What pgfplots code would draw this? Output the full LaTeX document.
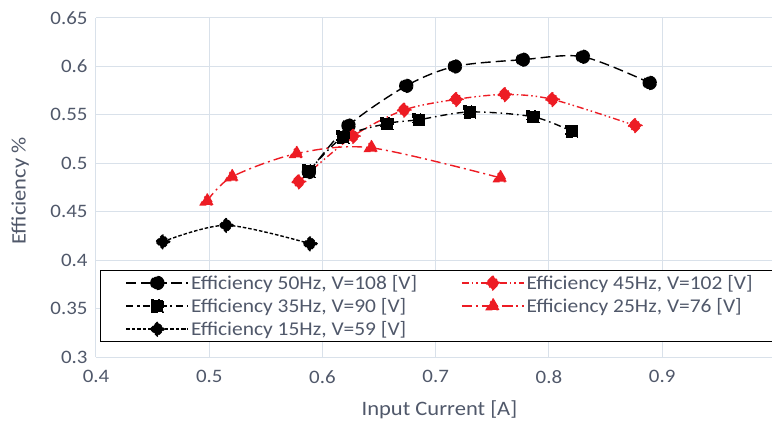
\documentclass[border=0pt]{standalone}
\usepackage{fontspec}
\setmainfont{Carlito}[FakeStretch=1.1]
\usepackage{pgfplots}
\pgfplotsset{compat=1.18}
\definecolor{txt}{RGB}{80,88,106}
\definecolor{gridc}{RGB}{217,225,234}
\definecolor{myred}{RGB}{237,28,36}
\begin{document}
\begin{tikzpicture}
\begin{axis}[name=ax, scale only axis, width=676bp, height=339bp,
  xmin=0.4, xmax=0.997, ymin=0.3, ymax=0.65,
  xtick={0.4,0.5,0.6,0.7,0.8,0.9}, ytick={0.3,0.35,0.4,0.45,0.5,0.55,0.6,0.65},
  xticklabels={0.4,0.5,0.6,0.7,0.8,0.9},
  yticklabels={0.3,0.35,0.4,0.45,0.5,0.55,0.6,0.65},
  grid=major, major grid style={draw=gridc, line width=1bp},
  axis x line=bottom, axis y line=left,
  axis line style={draw=gridc, line width=1bp, -},
  major tick length=0pt,
  ticklabel style={font=\fontsize{19bp}{22bp}\selectfont, text=txt},
  yticklabel style={xshift=-5bp},
  xticklabel style={yshift=-10bp},
  xlabel={Input Current [A]}, ylabel={Efficiency \%},
  label style={font=\fontsize{20.5bp}{23bp}\selectfont, text=txt},
  x label style={at={(axis description cs:0.508,-0.156)}, anchor=center},
  y label style={at={(axis description cs:-0.112,0.49)}, anchor=center, rotate=0},
  legend columns=2, legend cell align=left,
  legend style={at={(4/676,87/339)}, anchor=north west, draw=black, line width=1.3bp,
    font=\fontsize{19.5bp}{22bp}\selectfont, text=txt, fill=white,
    inner xsep=25bp, inner ysep=2.5bp, row sep=3.5bp,
    /tikz/every even column/.append style={column sep=42bp}},
  legend image code/.code={\draw[mark repeat=2,mark phase=2] plot coordinates {(0bp,0bp)(31bp,0bp)(62bp,0bp)};},
  every axis plot/.append style={line width=1.4bp, smooth},
  every mark/.append style={solid},
]
\addplot[black, dash pattern=on 10bp off 5bp, mark=*, mark size=6.5bp] coordinates {
(0.588,0.491) (0.623,0.539) (0.674,0.580) (0.717,0.600) (0.777,0.607) (0.830,0.610) (0.889,0.583)};
\addlegendentry{Efficiency 50Hz, V=108 [V]}
\addplot[myred, dash pattern=on 7bp off 3bp on 1.5bp off 3bp on 1.5bp off 3bp, mark=square*, mark options={rotate=45}, mark size=4.9bp] coordinates {
(0.579,0.481) (0.627,0.528) (0.672,0.555) (0.718,0.566) (0.761,0.571) (0.803,0.566) (0.876,0.539)};
\addlegendentry{Efficiency 45Hz, V=102 [V]}
\addplot[black, dash pattern=on 7bp off 4bp on 1.5bp off 4bp, mark=square*, mark size=6bp] coordinates {
(0.588,0.492) (0.618,0.527) (0.657,0.541) (0.685,0.545) (0.730,0.553) (0.786,0.548) (0.820,0.533)};
\addlegendentry{Efficiency 35Hz, V=90 [V]}
\addplot[myred, dash pattern=on 10bp off 4bp on 2bp off 4bp, mark=triangle*, mark size=7.5bp] coordinates {
(0.498,0.461) (0.520,0.486) (0.577,0.510) (0.643,0.516) (0.757,0.485)};
\addlegendentry{Efficiency 25Hz, V=76 [V]}
\addplot[black, dash pattern=on 3.5bp off 2bp, mark=square*, mark options={rotate=45}, mark size=4.9bp] coordinates {
(0.459,0.419) (0.515,0.436) (0.589,0.417)};
\addlegendentry{Efficiency 15Hz, V=59 [V]}
\end{axis}
\pgfresetboundingbox
\path[use as bounding box] ([xshift=-96bp,yshift=-65bp]ax.south west) rectangle ([yshift=18bp]ax.north east);
\end{tikzpicture}
\end{document}
